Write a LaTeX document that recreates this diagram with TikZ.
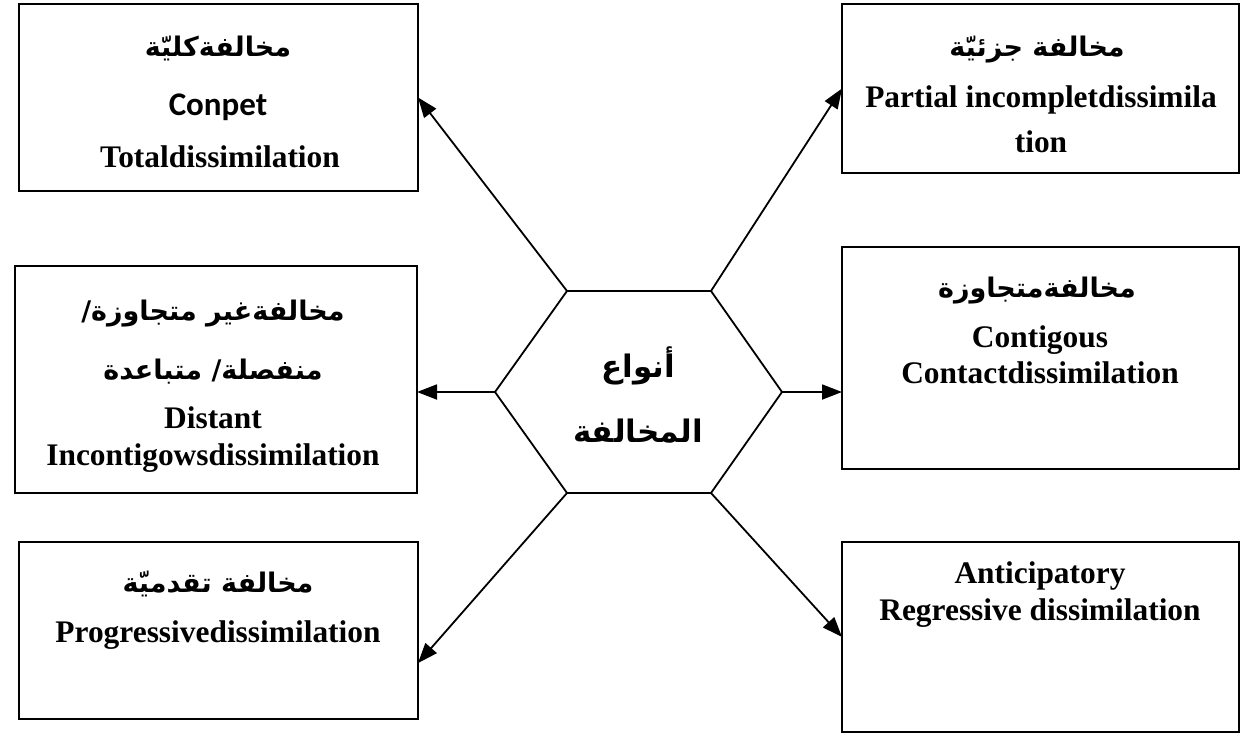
\documentclass[tikz,border=0pt]{standalone}
\usepackage{fontspec}
\setmainfont{Liberation Serif}
\newfontfamily\arbfont[Script=Arabic]{DejaVu Sans}
\newfontfamily\carlitofont{Carlito}
\TeXXeTstate=1
\usetikzlibrary{arrows.meta,calc}

\tikzset{
  box/.style={draw, line width=1.2pt, inner sep=0pt, outer sep=0pt},
  en/.style={anchor=base, inner sep=0pt, font=\fontsize{15.7}{18}\selectfont\bfseries},
  ensans/.style={anchor=base, inner sep=0pt, font=\carlitofont\fontsize{16.5}{18}\selectfont\bfseries},
  ar/.style={anchor=base, inner sep=0pt, font=\arbfont\fontsize{13.5}{18}\selectfont\bfseries},
  arbig/.style={anchor=base, inner sep=0pt, font=\arbfont\fontsize{15.5}{22}\selectfont\bfseries},
  link/.style={line width=0.9pt, -{Triangle[length=10pt,width=7.5pt]}},
  hexline/.style={line width=0.9pt}
}

\begin{document}
\begin{tikzpicture}[x=0.5pt,y=-0.5pt]
\useasboundingbox (0,0) rectangle (1245,733);

% outer boxes
\node[box, minimum width=199.5pt, minimum height=93.5pt] (tl) at (218.5,97.5) {};
\node[box, minimum width=198.5pt, minimum height=84.5pt] (tr) at (1040.5,88.5) {};
\node[box, minimum width=201pt,   minimum height=113.5pt] (ml) at (216,379.5) {};
\node[box, minimum width=198.5pt, minimum height=111pt] (mr) at (1040.5,358) {};
\node[box, minimum width=199.5pt, minimum height=88.5pt] (bl) at (218.5,630.5) {};
\node[box, minimum width=198.5pt, minimum height=95pt] (br) at (1040.5,637) {};

% central hexagon
\coordinate (hNW) at (567,291);
\coordinate (hNE) at (711,291);
\coordinate (hE)  at (782,392);
\coordinate (hSE) at (711,493);
\coordinate (hSW) at (567,493);
\coordinate (hW)  at (495,392);
\draw[hexline] (hNW) -- (hNE) -- (hE) -- (hSE) -- (hSW) -- (hW) -- cycle;
\node[arbig] (h1) at (638,377) {\beginR أنواع\endR};
\node[arbig] (h2) at (638,442) {\beginR المخالفة\endR};

% box texts
\node[ar] (tl1) at (218,57) {\beginR مخالفةكليّة\endR};
\node[ensans] (tl2) at (218,115) {Conpet};
\node[en] (tl3) at (220,167) {Totaldissimilation};

\node[ar] (tr1) at (1037,57) {\beginR مخالفة جزئيّة\endR};
\node[en] (tr2) at (1041,107) {Partial incompletdissimila};
\node[en] (tr3) at (1041,152) {tion};

\node[ar] (ml1) at (213,320) {\beginR مخالفةغير متجاوزة/\endR};
\node[ar] (ml2) at (213,379) {\beginR منفصلة/ متباعدة\endR};
\node[en] (ml3) at (213,428) {Distant};
\node[en] (ml4) at (213,465) {Incontigowsdissimilation};

\node[ar] (mr1) at (1037,297) {\beginR مخالفةمتجاوزة\endR};
\node[en] (mr2) at (1040,347) {Contigous};
\node[en] (mr3) at (1040,383) {Contactdissimilation};

\node[ar] (bl1) at (218,592) {\beginR مخالفة تقدميّة\endR};
\node[en] (bl2) at (218,642) {Progressivedissimilation};

\node[en] (br1) at (1040,583) {Anticipatory};
\node[en] (br2) at (1040,620) {Regressive dissimilation};

% connectors
\draw[link] (hNW) -- (tl.east);
\draw[link] (hNE) -- (tr.west);
\draw[link] (hW) -- (ml.east |- hW);
\draw[link] (hE) -- (mr.west |- hE);
\draw[link] (hSW) -- ($(bl.north east)!0.684!(bl.south east)$);
\draw[link] (hSE) -- (br.west);
\end{tikzpicture}
\end{document}
